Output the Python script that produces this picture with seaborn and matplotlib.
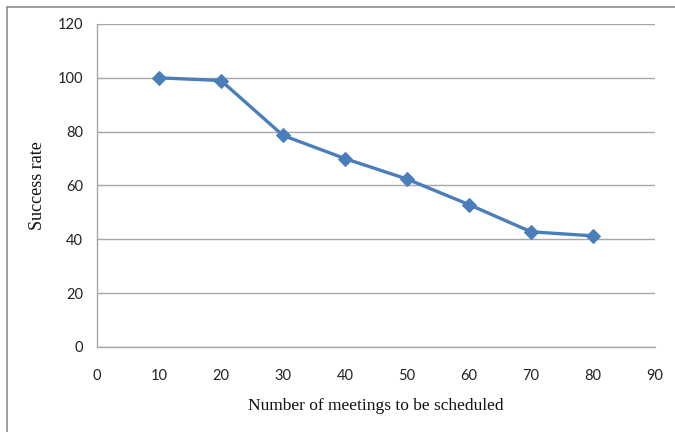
import matplotlib
matplotlib.use("Agg")
import matplotlib.pyplot as plt
from matplotlib.lines import Line2D
import seaborn as sns
import pandas as pd

meetings = [10, 20, 30, 40, 50, 60, 70, 80]
success_rate = [100, 99, 78.6, 70, 62.4, 52.9, 42.8, 41.3]
x_ticks = [0, 10, 20, 30, 40, 50, 60, 70, 80, 90]
y_ticks = [0, 20, 40, 60, 80, 100, 120]

df = pd.DataFrame({"meetings": meetings, "success": success_rate})

sns.set_theme(style="white")
plt.rcParams["font.family"] = ["Lato", "DejaVu Sans"]

fig = plt.figure(figsize=(6.75, 4.32), dpi=100)
ax = fig.add_axes([97 / 675, 85 / 432, 558 / 675, 323 / 432])

line_color = "#4a7ebb"
sns.lineplot(data=df, x="meetings", y="success", ax=ax, color=line_color,
             linewidth=2.4, marker="D", markersize=7, markeredgecolor=line_color,
             markerfacecolor=line_color)

ax.set_xlim(0, 90)
ax.set_ylim(0, 120)
ax.set_xticks(x_ticks)
ax.set_yticks(y_ticks)
ax.tick_params(axis="both", length=0, labelsize=10.5, colors="#222222")
ax.tick_params(axis="x", pad=16)
ax.tick_params(axis="y", pad=10)

ax.yaxis.grid(True, color="#a6a6a6", linewidth=1)
ax.xaxis.grid(False)
ax.set_axisbelow(True)

for side in ["top", "right"]:
    ax.spines[side].set_visible(False)
for side in ["left", "bottom"]:
    ax.spines[side].set_color("#a6a6a6")
    ax.spines[side].set_linewidth(1)

serif = ["Liberation Serif", "DejaVu Serif"]
ax.set_xlabel("Number of meetings to be scheduled", family=serif, fontsize=12.5,
              color="#111111", labelpad=11)
ax.set_ylabel("Success rate", family=serif, fontsize=13, color="#111111",
              labelpad=8)

# chart frame along the top and left
fig.add_artist(Line2D([7 / 675, 1.0], [1 - 7 / 432, 1 - 7 / 432],
                      transform=fig.transFigure, color="#8c8c8c", linewidth=1.2))
fig.add_artist(Line2D([7 / 675, 7 / 675], [0.0, 1 - 7 / 432],
                      transform=fig.transFigure, color="#8c8c8c", linewidth=1.2))

fig.savefig("out.png", dpi=100)
